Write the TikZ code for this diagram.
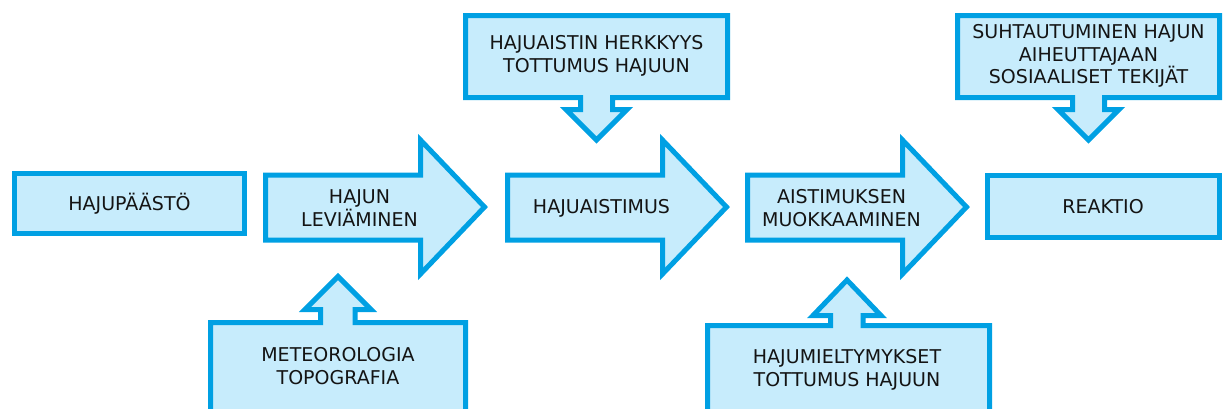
\documentclass[tikz,border=0pt]{standalone}
\usepackage{fontspec}
\setmainfont{DejaVu Sans}
\definecolor{cb}{RGB}{0,160,227}
\definecolor{cf}{RGB}{199,236,252}
\definecolor{ct}{RGB}{20,20,20}
\tikzstyle{blk}=[draw=cb, fill=cf, line width=5pt]
\tikzstyle{txt}=[ct, align=center, font=\fontsize{19}{22.5}\selectfont]

\begin{document}
\begin{tikzpicture}[x=1pt, y=-1pt]
  \clip (0,0) rectangle (1224,408);
  % main chain
  \draw [blk] (14.5,173.5) rectangle (244.5,233.5);
  \node [txt] (source) at (129.5,204) {HAJUPÄÄSTÖ};
  \foreach \x/\l [count=\i] in {265.5/{HAJUN\\LEVIÄMINEN}, 507.5/HAJUAISTIMUS, 747.5/{AISTIMUKSEN\\MUOKKAAMINEN}}{
    \draw [blk] (\x,175) -- (\x+155,175) -- (\x+155,140) -- (\x+219,207)
      -- (\x+155,274) -- (\x+155,240) -- (\x,240) -- cycle;
    \node [txt] (step-\i) at (\x+94,208) {\l};
  }
  \draw [blk] (987.5,175.5) rectangle (1219.5,237.5);
  \node [txt] (reaction) at (1103,207) {REAKTIO};
  % influences from above
  \foreach \x/\l [count=\i] in {465.5/{HAJUAISTIN HERKKYYS\\TOTTUMUS HAJUUN}, 957.5/{SUHTAUTUMINEN HAJUN\\AIHEUTTAJAAN\\SOSIAALISET TEKIJÄT}}{
    \draw [blk] (\x,15.5) -- (\x+262,15.5) -- (\x+262,97.5) -- (\x+147,97.5)
      -- (\x+147,109.5) -- (\x+161.5,109.5) -- (\x+131,140) -- (\x+100.5,109.5)
      -- (\x+115,109.5) -- (\x+115,97.5) -- (\x,97.5) -- cycle;
    \node [txt] (top-\i) at (\x+131,56) {\l};
  }
  % influences from below
  \draw [blk] (210.5,430) -- (210.5,322.5) -- (320.5,322.5) -- (320.5,309.5)
    -- (305,309.5) -- (338,276.5) -- (371,309.5) -- (355,309.5) -- (355,322.5)
    -- (465.5,322.5) -- (465.5,430) -- cycle;
  \node [txt] (bottom-1) at (338,366) {METEOROLOGIA\\TOPOGRAFIA};
  \draw [blk] (707.5,430) -- (707.5,325.5) -- (830.5,325.5) -- (830.5,315.5)
    -- (813,315.5) -- (847,280) -- (881,315.5) -- (863,315.5) -- (863,325.5)
    -- (989.5,325.5) -- (989.5,430) -- cycle;
  \node [txt] (bottom-2) at (847,370) {HAJUMIELTYMYKSET\\TOTTUMUS HAJUUN};
\end{tikzpicture}
\end{document}
